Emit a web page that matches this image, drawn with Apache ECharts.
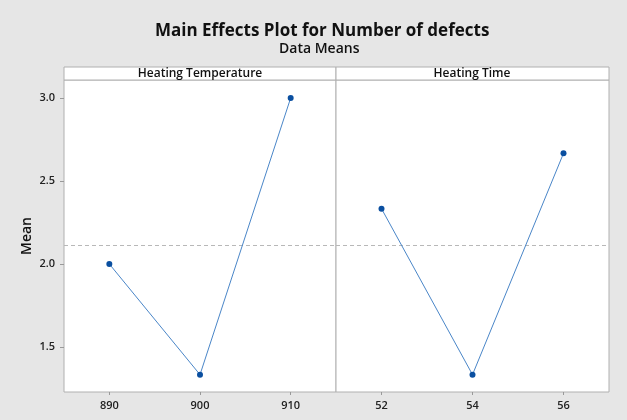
<!DOCTYPE html>
<html><head><meta charset="utf-8">
<script src="https://cdn.jsdelivr.net/npm/echarts@6/dist/echarts.min.js"></script>
<style>html,body{margin:0;padding:0;background:#e6e6e6;}#c{width:627px;height:420px;}</style>
</head><body><div id="c"></div>
<script>
const tempLevels = [890, 900, 910];
const tempMeans = [2.0, 1.3333, 3.0];
const timeLevels = [52, 54, 56];
const timeMeans = [2.3333, 1.3333, 2.6667];
const grandMean = 2.1111;
const yTicks = [1.5, 2.0, 2.5, 3.0];
const panelTitles = ['Heating Temperature', 'Heating Time'];

const FONT = '"Open Sans", "Noto Sans", sans-serif';
const chart = echarts.init(document.getElementById('c'));
const lineColor = '#4a86c8';
const dotColor = '#0a4fa0';
function mkSeries(levels, means, idx) {
  return {
    type: 'line', xAxisIndex: idx, yAxisIndex: idx,
    data: levels.map((x, i) => [x, means[i]]),
    symbol: 'circle', symbolSize: 6,
    itemStyle: { color: dotColor },
    lineStyle: { color: lineColor, width: 1 },
    markLine: {
      silent: true, symbol: 'none', label: { show: false },
      lineStyle: { color: '#b8b8b8', type: [4, 3], width: 1 },
      data: [{ yAxis: grandMean }]
    },
    z: 5
  };
}
function xAxisFor(idx, levels, min, max, interval) {
  return { gridIndex: idx, type: 'value', min: min, max: max, interval: interval,
    axisLine: { show: false }, splitLine: { show: false },
    axisTick: { show: true, length: 3, lineStyle: { color: '#999' }, customValues: levels },
    axisLabel: { fontFamily: FONT, fontSize: 11, fontWeight: 600, color: '#222', margin: 8,
      customValues: levels, formatter: v => String(v) } };
}
const gridTop = 80, gridH = 312;
chart.setOption({
  backgroundColor: '#e6e6e6',
  animation: false,
  title: [
    { text: 'Main Effects Plot for Number of defects', left: 150, top: 18,
      textStyle: { fontFamily: FONT, fontSize: 17, fontWeight: 'bold', color: '#111' } },
    { text: 'Data Means', left: 274, top: 37,
      textStyle: { fontFamily: FONT, fontSize: 14, fontWeight: 600, color: '#111' } }
  ],
  grid: [
    { left: 64, top: gridTop, width: 272, height: gridH, show: true, backgroundColor: '#fff', borderColor: '#b0b0b0', borderWidth: 1 },
    { left: 336, top: gridTop, width: 273, height: gridH, show: true, backgroundColor: '#fff', borderColor: '#b0b0b0', borderWidth: 1 }
  ],
  xAxis: [
    xAxisFor(0, tempLevels, 885, 915, 5),
    xAxisFor(1, timeLevels, 51, 57, 1)
  ],
  yAxis: [
    { gridIndex: 0, type: 'value', min: 1.2289, max: 3.1084,
      axisLine: { show: false }, splitLine: { show: false },
      axisTick: { show: true, length: 4, lineStyle: { color: '#999' }, customValues: yTicks },
      axisLabel: { fontFamily: FONT, fontSize: 11, fontWeight: 600, color: '#222', margin: 9,
        customValues: yTicks, formatter: v => v.toFixed(1) },
      name: 'Mean', nameLocation: 'middle', nameGap: 30,
      nameTextStyle: { fontFamily: FONT, fontSize: 14, fontWeight: 600, color: '#111' } },
    { gridIndex: 1, type: 'value', min: 1.2289, max: 3.1084,
      axisLine: { show: false }, splitLine: { show: false },
      axisTick: { show: false }, axisLabel: { show: false } }
  ],
  graphic: [
    { type: 'rect', shape: { x: 64, y: 67, width: 272, height: 13 }, style: { fill: '#fff', stroke: '#b0b0b0', lineWidth: 1 } },
    { type: 'rect', shape: { x: 336, y: 67, width: 273, height: 13 }, style: { fill: '#fff', stroke: '#b0b0b0', lineWidth: 1 } },
    { type: 'text', x: 200, y: 74, style: { text: panelTitles[0], font: '600 12px ' + FONT, fill: '#111', textAlign: 'center', textVerticalAlign: 'middle' } },
    { type: 'text', x: 472, y: 74, style: { text: panelTitles[1], font: '600 12px ' + FONT, fill: '#111', textAlign: 'center', textVerticalAlign: 'middle' } }
  ],
  series: [mkSeries(tempLevels, tempMeans, 0), mkSeries(timeLevels, timeMeans, 1)]
});
</script></body></html>
